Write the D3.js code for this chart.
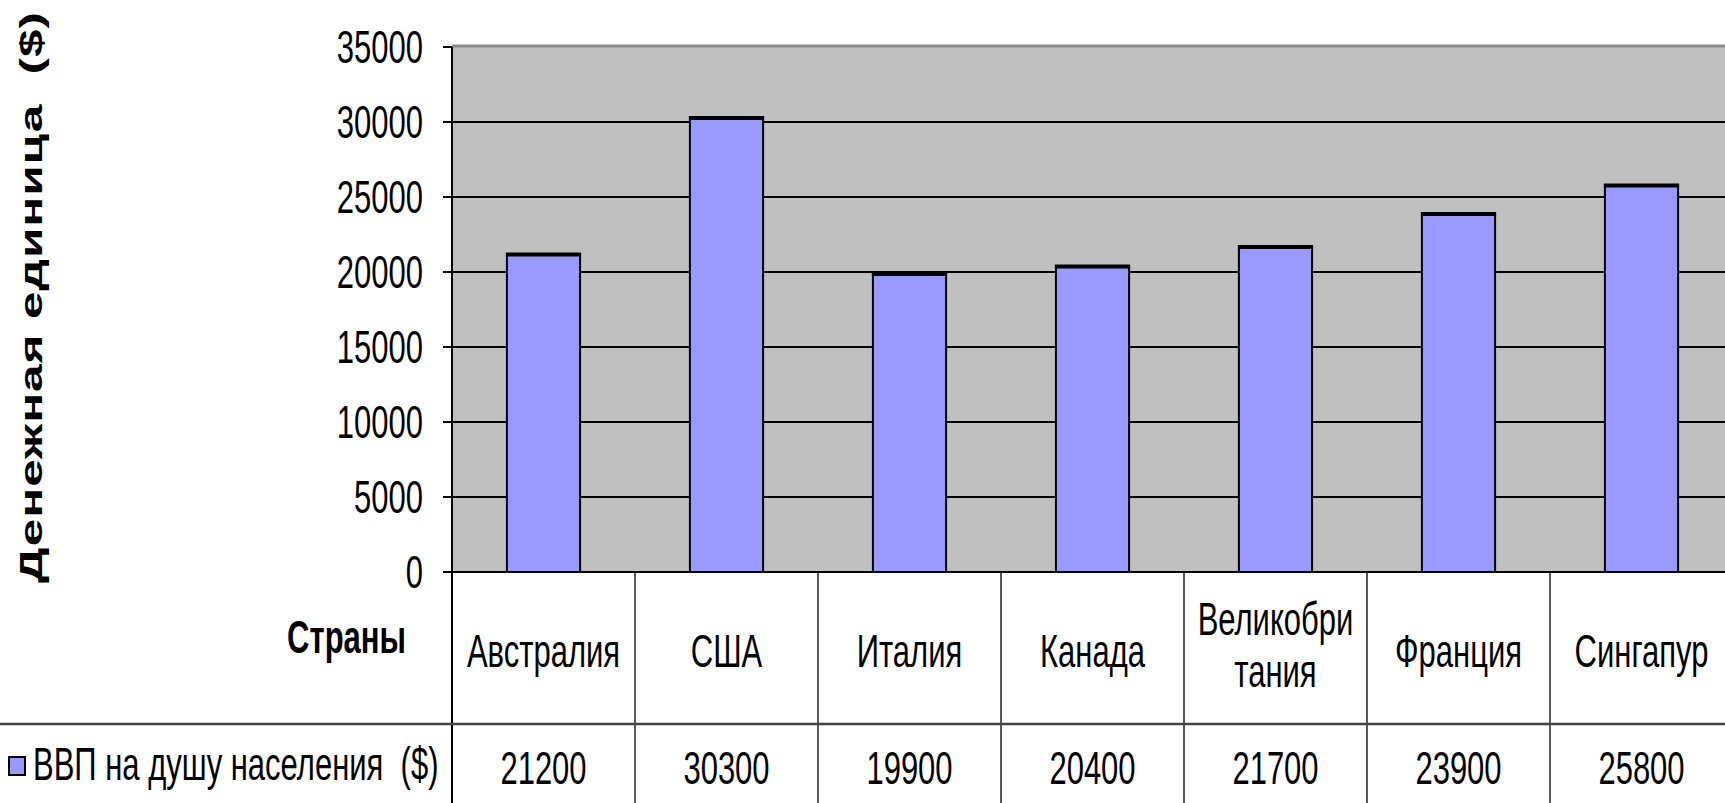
<!DOCTYPE html>
<html>
	<head>
		<meta charset="UTF-8" />
		<title>ВВП на душу населения</title>
		<script src="https://cdn.jsdelivr.net/npm/d3@7"></script>
		<style>
			body {
				margin: 0;
				background: #fff;
			}
			svg {
				display: block;
			}
			text {
				font-family: "Liberation Sans Narrow", "Arial Narrow", sans-serif;
				fill: #000;
				white-space: pre;
			}
		</style>
	</head>
	<body>
		<svg width="1725" height="803"></svg>

		<script>
			const countries = [
				["Австралия"],
				["США"],
				["Италия"],
				["Канада"],
				["Великобри", "тания"],
				["Франция"],
				["Сингапур"],
			];
			const gdp = [21200, 30300, 19900, 20400, 21700, 23900, 25800];
			const yTicks = [0, 5000, 10000, 15000, 20000, 25000, 30000, 35000];
			const seriesName = "ВВП на душу населения  ($)";
			const rowTitle = "Страны";
			const yTitle = "Денежная единица  ($)";

			const svg = d3.select("svg");

			// the picture is stretched vertically, so the text is too
			const SY = 1.52;
			const fontSize = 31;

			const plotLeft = 452;
			const band = 183;
			const plotTop = 47;
			const plotBottom = 572;
			const rowLine = 724;

			const names = countries.map((c) => c.join(""));

			let x = d3
				.scaleBand()
				.domain(names)
				.range([plotLeft, plotLeft + band * names.length])
				.paddingInner(0.6)
				.paddingOuter(0.3);
			let y = d3.scaleLinear().domain([0, 35000]).range([plotBottom, plotTop]);

			// plot background
			svg
				.append("rect")
				.attr("x", plotLeft)
				.attr("y", plotTop)
				.attr("width", band * names.length)
				.attr("height", plotBottom - plotTop)
				.attr("fill", "#c0c0c0");

			// gridlines
			svg
				.append("g")
				.selectAll("line")
				.data(yTicks.slice(1, -1))
				.enter()
				.append("line")
				.attr("x1", plotLeft)
				.attr("x2", 1725)
				.attr("y1", (d) => y(d))
				.attr("y2", (d) => y(d))
				.attr("stroke", "#000")
				.attr("stroke-width", 2);

			// top border of plot area
			svg
				.append("line")
				.attr("x1", plotLeft)
				.attr("x2", 1725)
				.attr("y1", y(35000) - 1)
				.attr("y2", y(35000) - 1)
				.attr("stroke", "#8c8c8c")
				.attr("stroke-width", 3);

			// bars
			let bars = svg.append("g").selectAll("g").data(gdp).enter().append("g");
			bars
				.append("rect")
				.attr("x", (d, i) => x(names[i]))
				.attr("y", (d) => y(d))
				.attr("width", x.bandwidth())
				.attr("height", (d) => y(0) - y(d))
				.attr("fill", "#9999ff")
				.attr("stroke", "#000")
				.attr("stroke-width", 2);
			bars
				.append("line")
				.attr("x1", (d, i) => x(names[i]) - 1)
				.attr("x2", (d, i) => x(names[i]) + x.bandwidth() + 1)
				.attr("y1", (d) => y(d) + 0.5)
				.attr("y2", (d) => y(d) + 0.5)
				.attr("stroke", "#000")
				.attr("stroke-width", 4);

			// y axis line + ticks
			svg
				.append("line")
				.attr("x1", plotLeft)
				.attr("x2", plotLeft)
				.attr("y1", plotTop)
				.attr("y2", 803)
				.attr("stroke", "#000")
				.attr("stroke-width", 2);
			svg
				.append("g")
				.selectAll("line")
				.data(yTicks)
				.enter()
				.append("line")
				.attr("x1", plotLeft - 9)
				.attr("x2", plotLeft)
				.attr("y1", (d) => y(d))
				.attr("y2", (d) => y(d))
				.attr("stroke", "#000")
				.attr("stroke-width", 2);

			// zero line
			svg
				.append("line")
				.attr("x1", plotLeft - 9)
				.attr("x2", 1725)
				.attr("y1", plotBottom)
				.attr("y2", plotBottom)
				.attr("stroke", "#000")
				.attr("stroke-width", 2);

			// tick labels
			svg
				.append("g")
				.selectAll("text")
				.data(yTicks)
				.enter()
				.append("text")
				.attr("transform", (d) => `translate(423,${y(d) + 16}) scale(1,${SY})`)
				.attr("text-anchor", "end")
				.style("font-size", fontSize + "px")
				.text((d) => d);

			// y title
			svg
				.append("text")
				.attr("transform", "translate(42,583) rotate(-90) scale(1.55,1)")
				.attr("textLength", 571 / 1.55)
				.attr("lengthAdjust", "spacing")
				.style("font-family", '"Liberation Sans", Arial, sans-serif')
				.style("font-weight", "bold")
				.style("font-size", "32px")
				.text(yTitle);

			// table lines
			svg
				.append("g")
				.selectAll("line")
				.data(names.slice(1))
				.enter()
				.append("line")
				.attr("x1", (d) => x(d) - x.step() * 0.3)
				.attr("x2", (d) => x(d) - x.step() * 0.3)
				.attr("y1", plotBottom)
				.attr("y2", 803)
				.attr("stroke", "#222")
				.attr("stroke-width", 1.5);
			svg
				.append("line")
				.attr("x1", 0)
				.attr("x2", 1725)
				.attr("y1", rowLine)
				.attr("y2", rowLine)
				.attr("stroke", "#444")
				.attr("stroke-width", 2.5);

			// category labels
			let cats = svg.append("g").selectAll("text").data(countries).enter().append("text");
			cats
				.attr("text-anchor", "middle")
				.style("font-size", fontSize + "px")
				.attr("transform", (d, i) => {
					let cx = x(names[i]) + x.bandwidth() / 2;
					let by = d.length > 1 ? 635 : 667;
					return `translate(${cx},${by}) scale(1,${SY})`;
				})
				.selectAll("tspan")
				.data((d) => d)
				.enter()
				.append("tspan")
				.attr("x", 0)
				.attr("dy", (d, i) => (i ? 52 / SY : 0))
				.text((d) => d);

			// values row
			svg
				.append("g")
				.selectAll("text")
				.data(gdp)
				.enter()
				.append("text")
				.attr("text-anchor", "middle")
				.style("font-size", fontSize + "px")
				.attr(
					"transform",
					(d, i) => `translate(${x(names[i]) + x.bandwidth() / 2},784) scale(1,${SY})`
				)
				.text((d) => d);

			// row headers
			svg
				.append("text")
				.attr("transform", `translate(406,653) scale(1,${SY})`)
				.attr("text-anchor", "end")
				.style("font-size", fontSize + "px")
				.style("font-weight", "bold")
				.text(rowTitle);

			svg
				.append("rect")
				.attr("x", 9)
				.attr("y", 757)
				.attr("width", 16)
				.attr("height", 18)
				.attr("fill", "#9999ff")
				.attr("stroke", "#000")
				.attr("stroke-width", 2);
			svg
				.append("text")
				.attr("transform", `translate(33,780) scale(1,${SY})`)
				.style("font-size", fontSize + "px")
				.text(seriesName);
		</script>
	</body>
</html>
